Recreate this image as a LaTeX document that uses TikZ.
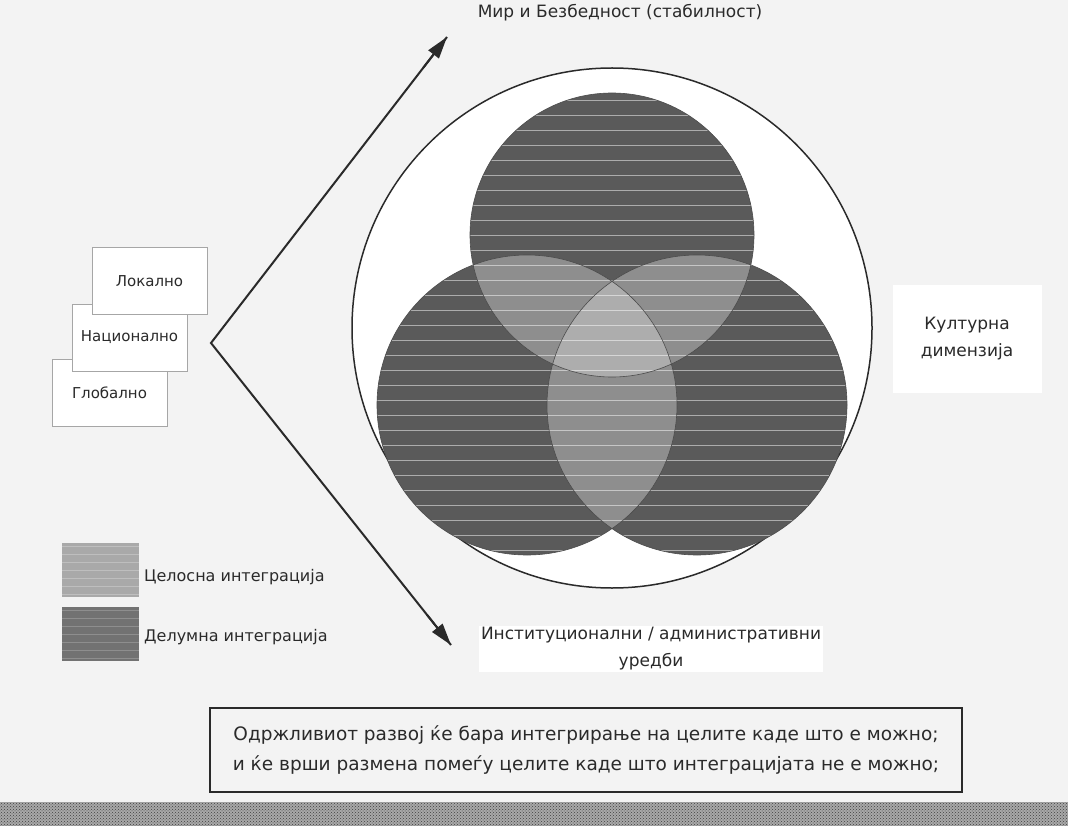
\documentclass[tikz,border=0pt]{standalone}
\usepackage{fontspec}
\setmainfont{DejaVu Sans}
\usetikzlibrary{arrows.meta,patterns,calc}
\definecolor{bg}{HTML}{F3F3F3}
\definecolor{darkc}{HTML}{5A5A5A}
\definecolor{midc}{HTML}{8E8E8E}
\definecolor{lightc}{HTML}{ADADAD}
\definecolor{ink}{HTML}{2A2A2A}
\definecolor{bandc}{HTML}{A8A8A8}
\definecolor{legl}{HTML}{A9A9A9}
\definecolor{legd}{HTML}{727272}
\begin{document}
\begin{tikzpicture}[x=1pt,y=-1pt,
  lbl/.style={font=\fontsize{17}{27}\selectfont, text=ink, align=center, inner sep=2pt},
  card/.style={draw=gray!70, fill=white, line width=0.9pt, minimum width=115pt, minimum height=67pt, font=\fontsize{15}{18}\selectfont, text=ink, inner sep=0pt},
  arr/.style={line width=2pt, draw=ink, -{Triangle[length=22pt,width=13pt]}},
  legbox/.style={minimum width=77pt, minimum height=54pt, inner sep=0pt},
  legtxt/.style={font=\fontsize{16}{19}\selectfont, text=ink, anchor=west, inner sep=0pt},
  venn/.style={draw=black!70, line width=0.6pt}
]
\useasboundingbox (0,0) rectangle (1068,826);
\fill[bg] (0,0) rectangle (1068,826);

% outer circle
\draw[ink, line width=1.5pt, fill=white] (612,328) circle[radius=260];

% Venn circles
\coordinate (cT) at (612,235);
\coordinate (cL) at (527,405);
\coordinate (cR) at (697,405);
\def\rT{142}
\def\rS{150}
\fill[darkc] (cT) circle[radius=\rT];
\fill[darkc] (cL) circle[radius=\rS];
\fill[darkc] (cR) circle[radius=\rS];
\begin{scope}
  \clip (cT) circle[radius=\rT];
  \fill[midc] (cL) circle[radius=\rS];
  \fill[midc] (cR) circle[radius=\rS];
\end{scope}
\begin{scope}
  \clip (cL) circle[radius=\rS];
  \fill[midc] (cR) circle[radius=\rS];
\end{scope}
\begin{scope}
  \clip (cT) circle[radius=\rT];
  \clip (cL) circle[radius=\rS];
  \fill[lightc] (cR) circle[radius=\rS];
\end{scope}
% stripes
\begin{scope}
  \clip (cT) circle[radius=\rT] (cL) circle[radius=\rS] (cR) circle[radius=\rS];
  \foreach \yy in {100,115,...,560} \draw[white, opacity=0.5, line width=0.7pt] (360,\yy) -- (870,\yy);
\end{scope}
\draw[venn] (cT) circle[radius=\rT];
\draw[venn] (cL) circle[radius=\rS];
\draw[venn] (cR) circle[radius=\rS];

% stacked cards
\node[card] (glob) at (109.5,392.5) {Глобално};
\node[card] (nat) at (129.5,337.5) {Национално};
\node[card] (loc) at (149.5,281) {Локално};

% arrows
\coordinate (apex) at (211,343);
\coordinate (tipT) at (447,37);
\coordinate (tipB) at (451,645);
\draw[ink, line width=2pt, line join=miter] (tipT) -- (apex) -- (tipB);
\draw[arr] ($(apex)!0.9!(tipT)$) -- (tipT);
\draw[arr] ($(apex)!0.9!(tipB)$) -- (tipB);

% labels
\node[lbl] (peace) at (620,13) {Мир и Безбедност (стабилност)};
\node[lbl, fill=white, minimum width=149pt, minimum height=108pt] (culture) at (967,339) {Културна\\димензија};
\node[lbl, fill=white] (inst) at (651,649) {Институционални / административни\\уредби};

% legend
\node[legbox, fill=legl] (lfull) at (100.5,570) {};
\node[legbox, fill=legd] (lpart) at (100.5,634) {};
\foreach \yy in {546,554,...,596} \draw[white, opacity=0.25, line width=0.6pt] (62,\yy) -- (139,\yy);
\foreach \yy in {610,618,...,660} \draw[white, opacity=0.2, line width=0.6pt] (62,\yy) -- (139,\yy);
\node[legtxt] (tfull) at (144,577) {Целосна интеграција};
\node[legtxt] (tpart) at (144,637) {Делумна интеграција};

% bottom note
\node[draw=ink, line width=1.2pt, minimum width=752pt, minimum height=84pt, lbl, font=\fontsize{18.5}{30}\selectfont] (note) at (586,750) {Одржливиот развој ќе бара интегрирање на целите каде што е можно;\\и ќе врши размена помеѓу целите каде што интеграцијата не е можно;};

% bottom band
\fill[bandc] (0,802) rectangle (1068,826);
\fill[pattern=crosshatch dots, pattern color=gray!50!black] (0,802) rectangle (1068,826);
\end{tikzpicture}
\end{document}
